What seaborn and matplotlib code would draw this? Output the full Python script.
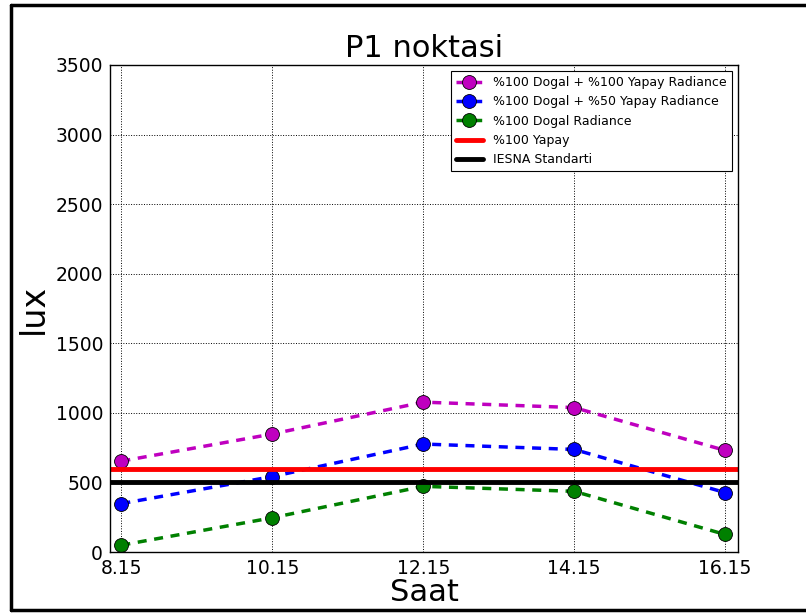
import matplotlib
matplotlib.use("Agg")
import matplotlib.pyplot as plt
import seaborn as sns
import pandas as pd
from matplotlib.lines import Line2D

# measurement times and tick labels
saat = [8.15, 10.15, 12.15, 14.15, 16.15]
saat_labels = ['8.15', '10.15', '12.15', '14.15', '16.15']

# illuminance values (lux)
dogal_yapay100 = [653, 848, 1077, 1038, 730]
dogal_yapay50 = [348, 542, 776, 737, 427]
dogal = [49, 246, 472, 436, 126]
yapay100 = 600
iesna = 500

sns.set_style("white")
plt.rcParams['font.family'] = ['DejaVu Sans']
plt.rcParams['text.color'] = 'k'
plt.rcParams['axes.labelcolor'] = 'k'
plt.rcParams['xtick.color'] = 'k'
plt.rcParams['ytick.color'] = 'k'

fig = plt.figure(figsize=(8.06, 6.13), dpi=100)
ax = fig.add_axes([0.1365, 0.0995, 0.7791, 0.7945])

series = [
    (dogal_yapay100, 'm', '%100 Dogal + %100 Yapay Radiance'),
    (dogal_yapay50, 'b', '%100 Dogal + %50 Yapay Radiance'),
    (dogal, 'g', '%100 Dogal Radiance'),
]
for vals, col, lab in series:
    df = pd.DataFrame({'saat': saat, 'lux': vals})
    sns.lineplot(data=df, x='saat', y='lux', ax=ax, color=col, label=lab,
                 linewidth=2.5, linestyle=(0, (2.6, 2.2)), marker='o', markersize=10,
                 markeredgecolor='k', markeredgewidth=0.6, markerfacecolor=col)

ax.axhline(yapay100, color='r', linewidth=3.5, label='%100 Yapay')
ax.axhline(iesna, color='k', linewidth=3.5, label='IESNA Standarti')

ax.set_xlim(8.0, 16.32)
ax.set_ylim(0, 3500)
ax.set_xticks(saat)
ax.set_xticklabels(saat_labels)
ax.set_yticks(range(0, 3501, 500))
ax.tick_params(labelsize=13.5, direction='out', length=3, color='k', pad=2)
ax.grid(True, color='k', linestyle=':', linewidth=0.7)
for s in ax.spines.values():
    s.set_color('k')
    s.set_linewidth(1)

ax.set_title('P1 noktasi', fontsize=22, color='k')
ax.set_xlabel('Saat', fontsize=22, labelpad=0)
ax.set_ylabel('lux', fontsize=24, labelpad=4)

leg = ax.legend(loc='upper right', fontsize=9, numpoints=1, fancybox=False,
                framealpha=1, edgecolor='k', handlelength=2.2,
                labelspacing=0.5, borderaxespad=0.5)
leg.get_frame().set_linewidth(0.8)

# screenshot-style frame around the figure
for xs, ys in [([11/806, 11/806], [3/613, 1 - 5/613]),
               ([11/806, 1.0], [1 - 5/613, 1 - 5/613]),
               ([11/806, 1.0], [3/613, 3/613])]:
    fig.add_artist(Line2D(xs, ys, transform=fig.transFigure, color='k', linewidth=2.5))

fig.savefig('out.png', dpi=100)
